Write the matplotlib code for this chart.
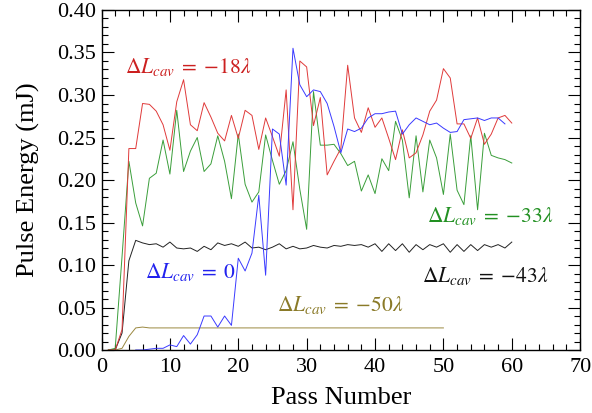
import numpy as np
import matplotlib
matplotlib.use("Agg")
import matplotlib.pyplot as plt
from matplotlib.ticker import MultipleLocator, FormatStrFormatter

plt.rcParams['font.family'] = ['Liberation Serif', 'DejaVu Serif']
plt.rcParams['mathtext.fontset'] = 'stix'

passes_60 = list(range(1, 61))
red_18 = [0, 0, 0.024, 0.237, 0.237, 0.290, 0.289, 0.281, 0.265, 0.235,
          0.292, 0.318, 0.265, 0.258, 0.291, 0.274, 0.255, 0.246, 0.276, 0.249,
          0.282, 0.276, 0.236, 0.273, 0.251, 0.228, 0.306, 0.165, 0.340, 0.333,
          0.264, 0.297, 0.206, 0.222, 0.237, 0.335, 0.273, 0.256, 0.285, 0.262,
          0.273, 0.249, 0.224, 0.259, 0.226, 0.232, 0.253, 0.281, 0.294, 0.331,
          0.320, 0.266, 0.266, 0.249, 0.273, 0.242, 0.254, 0.273, 0.276, 0.267]
green_33 = [0, 0.002, 0.110, 0.222, 0.173, 0.146, 0.202, 0.208, 0.247, 0.207,
            0.282, 0.210, 0.234, 0.250, 0.210, 0.219, 0.252, 0.222, 0.178, 0.254,
            0.195, 0.174, 0.186, 0.253, 0.223, 0.195, 0.211, 0.245, 0.189, 0.142,
            0.304, 0.241, 0.241, 0.242, 0.231, 0.217, 0.222, 0.187, 0.206, 0.184,
            0.225, 0.211, 0.269, 0.247, 0.179, 0.252, 0.186, 0.247, 0.226, 0.183,
            0.254, 0.188, 0.171, 0.252, 0.165, 0.255, 0.229, 0.226, 0.224, 0.220]
black_43 = [0, 0, 0.020, 0.105, 0.129, 0.126, 0.124, 0.125, 0.121, 0.127,
            0.120, 0.119, 0.120, 0.116, 0.122, 0.118, 0.126, 0.123, 0.125, 0.122,
            0.127, 0.120, 0.121, 0.118, 0.121, 0.125, 0.119, 0.122, 0.119, 0.120,
            0.123, 0.121, 0.120, 0.123, 0.122, 0.124, 0.123, 0.124, 0.121, 0.125,
            0.116, 0.125, 0.117, 0.125, 0.115, 0.124, 0.118, 0.124, 0.121, 0.125,
            0.115, 0.124, 0.116, 0.124, 0.117, 0.124, 0.121, 0.124, 0.120, 0.127]

passes_blue = list(range(5, 60))
blue_0 = [0, 0, 0.001, 0.002, 0.002, 0.006, 0.004, 0.017, 0.007, 0.018,
          0.040, 0.040, 0.027, 0.040, 0.029, 0.108, 0.093, 0.114, 0.182, 0.088,
          0.260, 0.254, 0.194, 0.355, 0.312, 0.298, 0.306, 0.304, 0.290, 0.263,
          0.232, 0.260, 0.257, 0.261, 0.273, 0.278, 0.278, 0.280, 0.281, 0.254,
          0.265, 0.273, 0.269, 0.265, 0.267, 0.261, 0.256, 0.257, 0.271, 0.272,
          0.273, 0.270, 0.273, 0.273, 0.266]

passes_50 = list(range(1, 51))
olive_50 = [0, 0, 0.002, 0.016, 0.026, 0.027, 0.026, 0.026, 0.026, 0.026,
            0.026, 0.026, 0.026, 0.026, 0.026, 0.026, 0.026, 0.026, 0.026, 0.026,
            0.026, 0.026, 0.026, 0.026, 0.026, 0.026, 0.026, 0.026, 0.026, 0.026,
            0.026, 0.026, 0.026, 0.026, 0.026, 0.026, 0.026, 0.026, 0.026, 0.026,
            0.026, 0.026, 0.026, 0.026, 0.026, 0.026, 0.026, 0.026, 0.026, 0.026]

labels = [r'$\Delta L_{cav}\;=\;{-}18\lambda$', r'$\Delta L_{cav}\;=\;{-}33\lambda$',
          r'$\Delta L_{cav}\;=\;{-}43\lambda$', r'$\Delta L_{cav}\;=\;0$',
          r'$\Delta L_{cav}\;=\;{-}50\lambda$']

fig = plt.figure(figsize=(5.92, 4.13), dpi=100)
ax = fig.add_axes([0.1715, 0.1525, 0.8085, 0.8233])

lw = 0.7
ax.plot(passes_60, black_43, color='#222222', lw=lw)
ax.plot(passes_50, olive_50, color='#9a8840', lw=lw)
ax.plot(passes_60, green_33, color='#3a9e3a', lw=lw)
ax.plot(passes_60, red_18, color='#e03a3a', lw=lw)
ax.plot(passes_blue, blue_0, color='#3a3aff', lw=lw)

fs = 15.5
ax.text(3.5, 0.333, labels[0], color='#cc2020', fontsize=fs, va='center')
ax.text(47.6, 0.158, labels[1], color='#229022', fontsize=fs, va='center')
ax.text(46.8, 0.087, labels[2], color='#111111', fontsize=fs, va='center')
ax.text(6.4, 0.092, labels[3], color='#2222ee', fontsize=fs, va='center')
ax.text(25.6, 0.053, labels[4], color='#8a7a28', fontsize=fs, va='center')

ax.set_xlim(0, 70)
ax.set_ylim(0, 0.40)
ax.xaxis.set_major_locator(MultipleLocator(10))
ax.xaxis.set_minor_locator(MultipleLocator(2))
ax.yaxis.set_major_locator(MultipleLocator(0.05))
ax.yaxis.set_minor_locator(MultipleLocator(0.01))
ax.yaxis.set_major_formatter(FormatStrFormatter('%.2f'))
ax.tick_params(which='both', direction='in', top=True, right=True, width=0.8,
               labelsize=16)
ax.tick_params(axis='x', pad=6)
ax.tick_params(axis='y', pad=4)
ax.tick_params(which='major', length=8.5)
ax.tick_params(which='minor', length=4.2)
for s in ax.spines.values():
    s.set_linewidth(1.0)

ax.set_xlabel('Pass Number', fontsize=19, labelpad=7)
ax.set_ylabel('Pulse Energy (mJ)', fontsize=19, labelpad=12)

fig.savefig('out.png', dpi=100)
